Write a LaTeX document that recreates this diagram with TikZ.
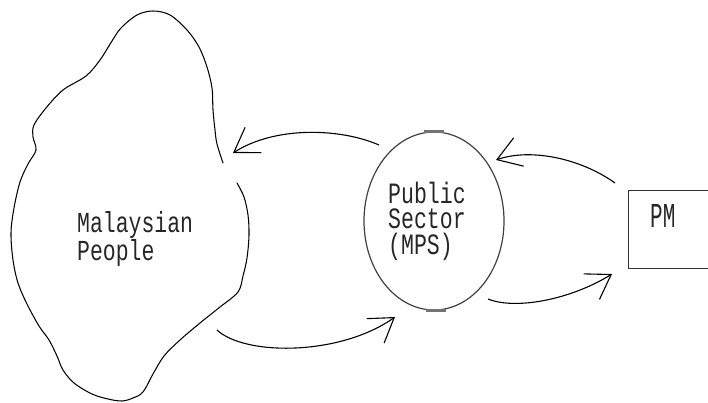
\documentclass[tikz,border=0pt]{standalone}
\usepackage{fontspec}
\newfontfamily\dotfont[FakeStretch=0.74]{Liberation Mono}
\newfontfamily\mpsfont[FakeStretch=0.73]{Liberation Mono}
\newfontfamily\pmfont[FakeStretch=0.6]{Liberation Mono}
\usetikzlibrary{arrows.meta,shapes.geometric}
\begin{document}
\begin{tikzpicture}[x=1pt,y=-1pt,
  flow/.style={line width=1.1pt,
    -{Straight Barb[length=23pt,width=30pt,line width=1.1pt]}},
  outline/.style={line width=1.05pt, line join=round, line cap=round},
  dottext/.style={inner sep=0pt, align=left, text=black!85}
]
\useasboundingbox (0,0) rectangle (708,403);
\clip (0,0) rectangle (708,403);

% Malaysian People (cloud-like outline, open where the arrow arrives)
\draw[outline] plot[smooth, tension=0.55] coordinates {
  (237,183) (244,197) (248,215) (249,235) (247,258) (243,276) (238,292)
  (220,307) (200,323) (180,340) (164,356) (153,374) (143,392) (133,398)
  (122,401) (108,399) (92,394) (74,383) (63,370) (57,356) (49,340)
  (39,326) (27,304) (18,283) (13,260) (11,233) (14,208) (20,182) (28,164)
  (36,150) (33,137) (34,125) (46,108) (63,90) (86,76) (100,60) (112,41)
  (121,28) (137,15) (153,11) (170,15) (187,30) (199,47) (207,67) (212,88)
  (213,110) (215,130) (217,144) (223,163)};
\node[dottext, anchor=west, font=\dotfont\fontsize{29}{23}\selectfont]
  (people) at (77,239) {Malaysian\\People};
\coordinate (peopleIn) at (233,153);
\coordinate (peopleOut) at (217,330);

% Public Sector (MPS)
\node[ellipse, draw=black!75, line width=1.2pt, minimum width=140pt,
  minimum height=178pt, inner sep=0pt] (mps) at (434,221) {};
\draw[line width=2.4pt, black!55] ([xshift=-10pt]mps.north) -- ([xshift=10pt]mps.north);
\draw[line width=2.4pt, black!55] ([xshift=-8pt]mps.south) -- ([xshift=12pt]mps.south);
\node[dottext, anchor=west, font=\mpsfont\fontsize{29.5}{25.5}\selectfont]
  (mpstext) at (388,221) {Public\\Sector\\(MPS)};
\coordinate (mpsNW) at (379,145);
\coordinate (mpsSW) at (395,317);
\coordinate (mpsNE) at (496,160);
\coordinate (mpsSE) at (488,299);

% PM (its right side lies beyond the picture's edge)
\node[draw=black!80, line width=0.9pt, minimum width=170pt, minimum height=78pt,
  anchor=north west, inner sep=0pt] (pm) at (628,190) {};
\node[dottext, anchor=base west, font=\pmfont\fontsize{35}{35}\selectfont]
  (pmtext) at (650,227) {PM};
\coordinate (pmIn) at (612,274);
\coordinate (pmOut) at (615,183);

% connectors
\draw[flow] (mpsNW) .. controls (340,128) and (275,126) .. (peopleIn);
\draw[flow] (peopleOut) .. controls (245,356) and (340,356) .. (mpsSW);
\draw[flow] (pmOut) .. controls (580,158) and (530,148) .. (mpsNE);
\draw[flow] (mpsSE) .. controls (515,310) and (570,300) .. (pmIn);
\end{tikzpicture}
\end{document}
